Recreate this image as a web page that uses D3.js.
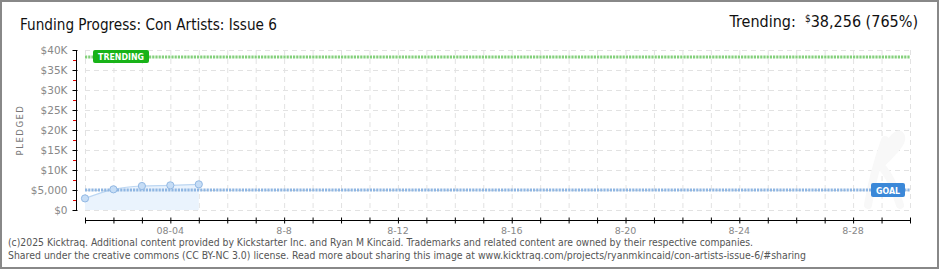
<!DOCTYPE html>
<html><head><meta charset="utf-8">
<script src="https://cdn.jsdelivr.net/npm/d3@7"></script>
<style>body{margin:0;background:#fff}svg{display:block}</style>
</head><body>
<script>
const days = d3.range(1,31).map(d => "08-" + String(d).padStart(2,"0"));
const pledgeDays = ["08-01","08-02","08-03","08-04","08-05"];
const pledged = [2900, 5170, 6000, 6170, 6420];
const goal = 5000;
const trending = 38256;
const yTicks = [0,5000,10000,15000,20000,25000,30000,35000,40000];
const yTickLabels = ["$0","$5,000","$10K","$15K","$20K","$25K","$30K","$35K","$40K"];
const yMinor = [2500,7500,12500,17500,22500,27500,32500,37500];
const xTickDays = ["08-04","08-08","08-12","08-16","08-20","08-24","08-28"];
const xTickLabels = ["08-04","8-8","8-12","8-16","8-20","8-24","8-28"];

const W=940,H=270;
const svg = d3.select("body").append("svg").attr("width",W).attr("height",H);
svg.append("rect").attr("x",1).attr("y",1).attr("width",W-3).attr("height",H-3)
  .attr("fill","#fff").attr("stroke","#888").attr("stroke-width",2);

const x = d3.scalePoint().domain(days).range([85,910]);
const y = d3.scaleLinear().domain([0,40000]).range([210,50]);

// grid
const g = svg.append("g");
g.selectAll("line.hg").data(yTicks).join("line")
  .attr("x1",85).attr("x2",910).attr("y1",d=>y(d)+0.5).attr("y2",d=>y(d)+0.5)
  .attr("stroke","#e2e2e2").attr("stroke-dasharray","5,4");
g.selectAll("line.vg").data(days).join("line")
  .attr("x1",d=>x(d)+0.5).attr("x2",d=>x(d)+0.5).attr("y1",50).attr("y2",210)
  .attr("stroke","#e2e2e2").attr("stroke-dasharray","5,4");

// faint watermark (shape, not text)
svg.append("path")
  .attr("d","M868,205 C872,180 878,160 885,140 M880,165 C895,150 905,140 900,135 C895,132 885,150 880,165 C890,175 895,190 900,205")
  .attr("fill","none").attr("stroke","#f8f8f8").attr("stroke-width",8).attr("stroke-linecap","round");

// area + line
const pts = pledgeDays.map((d,i)=>({d, v:pledged[i]}));
svg.append("path").datum(pts)
  .attr("d", d3.area().x(p=>x(p.d)).y0(y(0)).y1(p=>y(p.v)).curve(d3.curveMonotoneX))
  .attr("fill","#eaf3fd");
svg.append("path").datum(pts)
  .attr("d", d3.line().x(p=>x(p.d)).y(p=>y(p.v)).curve(d3.curveMonotoneX))
  .attr("fill","none").attr("stroke","#bcd6f2").attr("stroke-width",1.2);

// goal and trending lines
svg.append("line").attr("x1",85).attr("x2",910).attr("y1",y(goal)).attr("y2",y(goal))
  .attr("stroke","#8fb6e2").attr("stroke-width",3).attr("stroke-dasharray","2.2,1");
svg.append("line").attr("x1",85).attr("x2",910).attr("y1",y(trending)).attr("y2",y(trending))
  .attr("stroke","#84d07c").attr("stroke-width",3).attr("stroke-dasharray","2.2,1");

// points
svg.selectAll("circle.pt").data(pts).join("circle")
  .attr("cx",p=>x(p.d)).attr("cy",p=>y(p.v)).attr("r",3.6)
  .attr("fill","#c6ddf6").attr("stroke","#93b9e4").attr("stroke-width",1);

// labels
const tl = svg.append("g");
tl.append("rect").attr("x",93).attr("y",y(trending)-7).attr("width",56).attr("height",13).attr("rx",2)
  .attr("fill","#18b318");
tl.append("text").attr("x",121).attr("y",y(trending)+3.5).attr("text-anchor","middle")
  .attr("font-family","DejaVu Sans").attr("font-weight","bold").attr("font-size",9.5)
  .attr("fill","#fff").attr("textLength",46).attr("lengthAdjust","spacingAndGlyphs").text("TRENDING");
const gl = svg.append("g");
gl.append("rect").attr("x",871).attr("y",y(goal)-7).attr("width",34).attr("height",14).attr("rx",2)
  .attr("fill","#3b88d8");
gl.append("text").attr("x",888).attr("y",y(goal)+3.5).attr("text-anchor","middle")
  .attr("font-family","DejaVu Sans").attr("font-weight","bold").attr("font-size",9.5)
  .attr("fill","#fff").attr("textLength",24).attr("lengthAdjust","spacingAndGlyphs").text("GOAL");

// y axis
const ya = svg.append("g").attr("transform","translate(76.5,0)")
  .call(d3.axisLeft(y).tickValues(yTicks).tickSize(4).tickPadding(5)
    .tickFormat((d,i)=>yTickLabels[i]));
ya.select(".domain").attr("stroke","#000").attr("d","M0,50V210");
ya.selectAll(".tick line").attr("stroke","#000").attr("x2",-4).attr("x1",1);
ya.selectAll(".tick text").attr("fill","#888").attr("font-family","DejaVu Sans").attr("font-size",10.5);
svg.selectAll("line.minor").data(yMinor).join("line")
  .attr("x1",73).attr("x2",76).attr("y1",d=>y(d)+0.5).attr("y2",d=>y(d)+0.5)
  .attr("stroke","#e00000");

// x axis
const xa = svg.append("g").attr("transform","translate(0,220.5)")
  .call(d3.axisBottom(x).tickValues(days).tickSize(3).tickFormat(()=>""));
xa.select(".domain").attr("stroke","#000").attr("d","M85,0H910");
xa.selectAll(".tick line").attr("stroke","#000").attr("y1",-3).attr("y2",3);
svg.selectAll("text.xl").data(xTickDays).join("text")
  .attr("x",(d)=>x(d)).attr("y",234).attr("text-anchor","middle")
  .attr("font-family","DejaVu Sans").attr("font-size",9.5).attr("fill","#888")
  .text((d,i)=>xTickLabels[i]);

// y label
svg.append("text").attr("transform","translate(23,130) rotate(-90)").attr("text-anchor","middle")
  .attr("font-family","DejaVu Sans").attr("font-size",8.5).attr("fill","#777")
  .attr("letter-spacing",1.5).text("PLEDGED");

// titles
svg.append("text").attr("x",20).attr("y",30).attr("font-family","DejaVu Sans Condensed, DejaVu Sans")
  .attr("font-size",16.5).attr("fill","#111").attr("textLength",257).attr("lengthAdjust","spacingAndGlyphs")
  .text("Funding Progress: Con Artists: Issue 6");
const rt = svg.append("text").attr("x",918).attr("y",27).attr("text-anchor","end")
  .attr("font-family","DejaVu Sans Condensed, DejaVu Sans").attr("font-size",16).attr("fill","#111");
rt.append("tspan").text("Trending:\u00a0\u00a0");
rt.append("tspan").attr("font-size",10).attr("dy",-5).text("$");
rt.append("tspan").attr("dy",5).text(d3.format(",")(trending) + " (765%)");

// footer
svg.append("text").attr("x",8).attr("y",246).attr("font-family","DejaVu Sans Condensed, DejaVu Sans")
  .attr("font-size",10).attr("fill","#555").attr("textLength",745).attr("lengthAdjust","spacingAndGlyphs")
  .text("(c)2025 Kicktraq. Additional content provided by Kickstarter Inc. and Ryan M Kincaid. Trademarks and related content are owned by their respective companies.");
svg.append("text").attr("x",8).attr("y",259).attr("font-family","DejaVu Sans Condensed, DejaVu Sans")
  .attr("font-size",10).attr("fill","#555").attr("textLength",798).attr("lengthAdjust","spacingAndGlyphs")
  .text("Shared under the creative commons (CC BY-NC 3.0) license. Read more about sharing this image at www.kicktraq.com/projects/ryanmkincaid/con-artists-issue-6/#sharing");
</script>
</body></html>
